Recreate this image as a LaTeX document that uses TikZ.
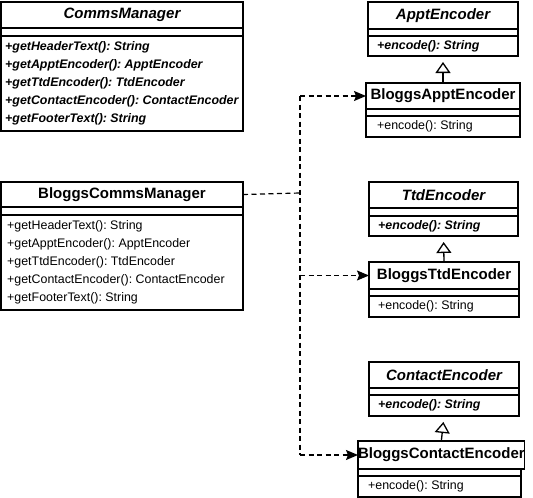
\documentclass[tikz,border=0pt]{standalone}
\usepackage{fontspec}
\setmainfont{Liberation Sans}
\frenchspacing
\usetikzlibrary{arrows.meta}
\begin{document}
\begin{tikzpicture}[x=1pt,y=-1pt,
  cls/.style={draw, line width=1.4pt, inner sep=0pt, outer sep=0pt, anchor=north west},
  ttl/.style={cls, font=\fontsize{15}{18}\selectfont\bfseries},
  ttla/.style={ttl, font=\fontsize{15}{18}\selectfont\bfseries\itshape},
  txt/.style={anchor=west, align=left, inner sep=0pt, font=\fontsize{12.4}{18}\selectfont},
  txta/.style={txt, font=\fontsize{12.4}{18}\selectfont\bfseries\itshape},
  dep/.style={dashed, dash pattern=on 5pt off 3.5pt, line width=1.2pt},
  deparrow/.style={dep, -{Stealth[length=12pt, width=10pt, inset=2pt]}},
  gen/.style={line width=1.3pt, -{Triangle[open, length=11pt, width=15pt, line width=1.3pt]}, shorten >=6pt}
]
\useasboundingbox (0,0) rectangle (533,498);

% CommsManager
\node[ttla, minimum width=242pt, minimum height=26pt] (cm-t) at (1,2) {CommsManager};
\node[cls, minimum width=242pt, minimum height=8pt] (cm-s) at (cm-t.south west) {};
\node[cls, minimum width=242pt, minimum height=95pt] (cm-m) at (cm-s.south west) {};
\node[txta] (cm-x) at ([xshift=4pt]cm-m.west)
  {+getHeaderText(): String\\+getApptEncoder(): ApptEncoder\\+getTtdEncoder(): TtdEncoder\\+getContactEncoder(): ContactEncoder\\+getFooterText(): String};

% BloggsCommsManager
\node[ttl, minimum width=242pt, minimum height=25pt] (bcm-t) at (1,182) {BloggsCommsManager};
\node[cls, minimum width=242pt, minimum height=8pt] (bcm-s) at (bcm-t.south west) {};
\node[cls, minimum width=242pt, minimum height=95pt] (bcm-m) at (bcm-s.south west) {};
\node[txt] (bcm-x) at ([xshift=6pt]bcm-m.west)
  {+getHeaderText(): String\\+getApptEncoder(): ApptEncoder\\+getTtdEncoder(): TtdEncoder\\+getContactEncoder(): ContactEncoder\\+getFooterText(): String};

% ApptEncoder
\node[ttla, minimum width=150pt, minimum height=27pt] (ae-t) at (368,2) {ApptEncoder};
\node[cls, minimum width=150pt, minimum height=7pt] (ae-s) at (ae-t.south west) {};
\node[cls, minimum width=150pt, minimum height=20pt] (ae-m) at (ae-s.south west) {};
\node[txta] (ae-x) at ([xshift=9pt]ae-m.west) {+encode(): String};

% BloggsApptEncoder
\node[ttl, minimum width=154pt, minimum height=26pt] (ba-t) at (366,83) {BloggsApptEncoder};
\node[cls, minimum width=154pt, minimum height=7pt] (ba-s) at (ba-t.south west) {};
\node[cls, minimum width=154pt, minimum height=21pt] (ba-m) at (ba-s.south west) {};
\node[txt] (ba-x) at ([xshift=11pt]ba-m.west) {+encode(): String};

% TtdEncoder
\node[ttla, minimum width=149pt, minimum height=26pt] (te-t) at (369,182) {TtdEncoder};
\node[cls, minimum width=149pt, minimum height=8pt] (te-s) at (te-t.south west) {};
\node[cls, minimum width=149pt, minimum height=20pt] (te-m) at (te-s.south west) {};
\node[txta] (te-x) at ([xshift=9pt]te-m.west) {+encode(): String};

% BloggsTtdEncoder
\node[ttl, minimum width=150pt, minimum height=27pt] (bt-t) at (369,262) {BloggsTtdEncoder};
\node[cls, minimum width=150pt, minimum height=7pt] (bt-s) at (bt-t.south west) {};
\node[cls, minimum width=150pt, minimum height=21pt] (bt-m) at (bt-s.south west) {};
\node[txt] (bt-x) at ([xshift=9pt]bt-m.west) {+encode(): String};

% ContactEncoder
\node[ttla, minimum width=150pt, minimum height=26pt] (ce-t) at (369,362) {ContactEncoder};
\node[cls, minimum width=150pt, minimum height=7pt] (ce-s) at (ce-t.south west) {};
\node[cls, minimum width=150pt, minimum height=21pt] (ce-m) at (ce-s.south west) {};
\node[txta] (ce-x) at ([xshift=9pt]ce-m.west) {+encode(): String};

% BloggsContactEncoder
\node[ttl, minimum width=163pt, minimum height=28pt] (bc-t) at (358,441) {BloggsContactEncoder};
\node[cls, minimum width=163pt, minimum height=7pt] (bc-s) at (bc-t.south west) {};
\node[cls, minimum width=163pt, minimum height=21pt] (bc-m) at (bc-s.south west) {};
\node[txt] (bc-x) at ([xshift=10pt]bc-m.west) {+encode(): String};

% generalisation
\draw[gen] (ba-t.north) -- (ae-m.south);
\draw[gen] (bt-t.north) -- (te-m.south);
\draw[gen] (bc-t.north) -- (ce-m.south);

% dependencies
\coordinate (j) at (300,193);
\draw[dep] (bcm-t.east) -- (j);
\draw[dep] (j |- ba-t.west) -- (j |- bc-t.west);
\draw[deparrow] (j |- ba-t.west) -- (ba-t.west);
\draw[deparrow] (j |- bt-t.west) -- (bt-t.west);
\draw[deparrow] (j |- bc-t.west) -- (bc-t.west);
\end{tikzpicture}
\end{document}
